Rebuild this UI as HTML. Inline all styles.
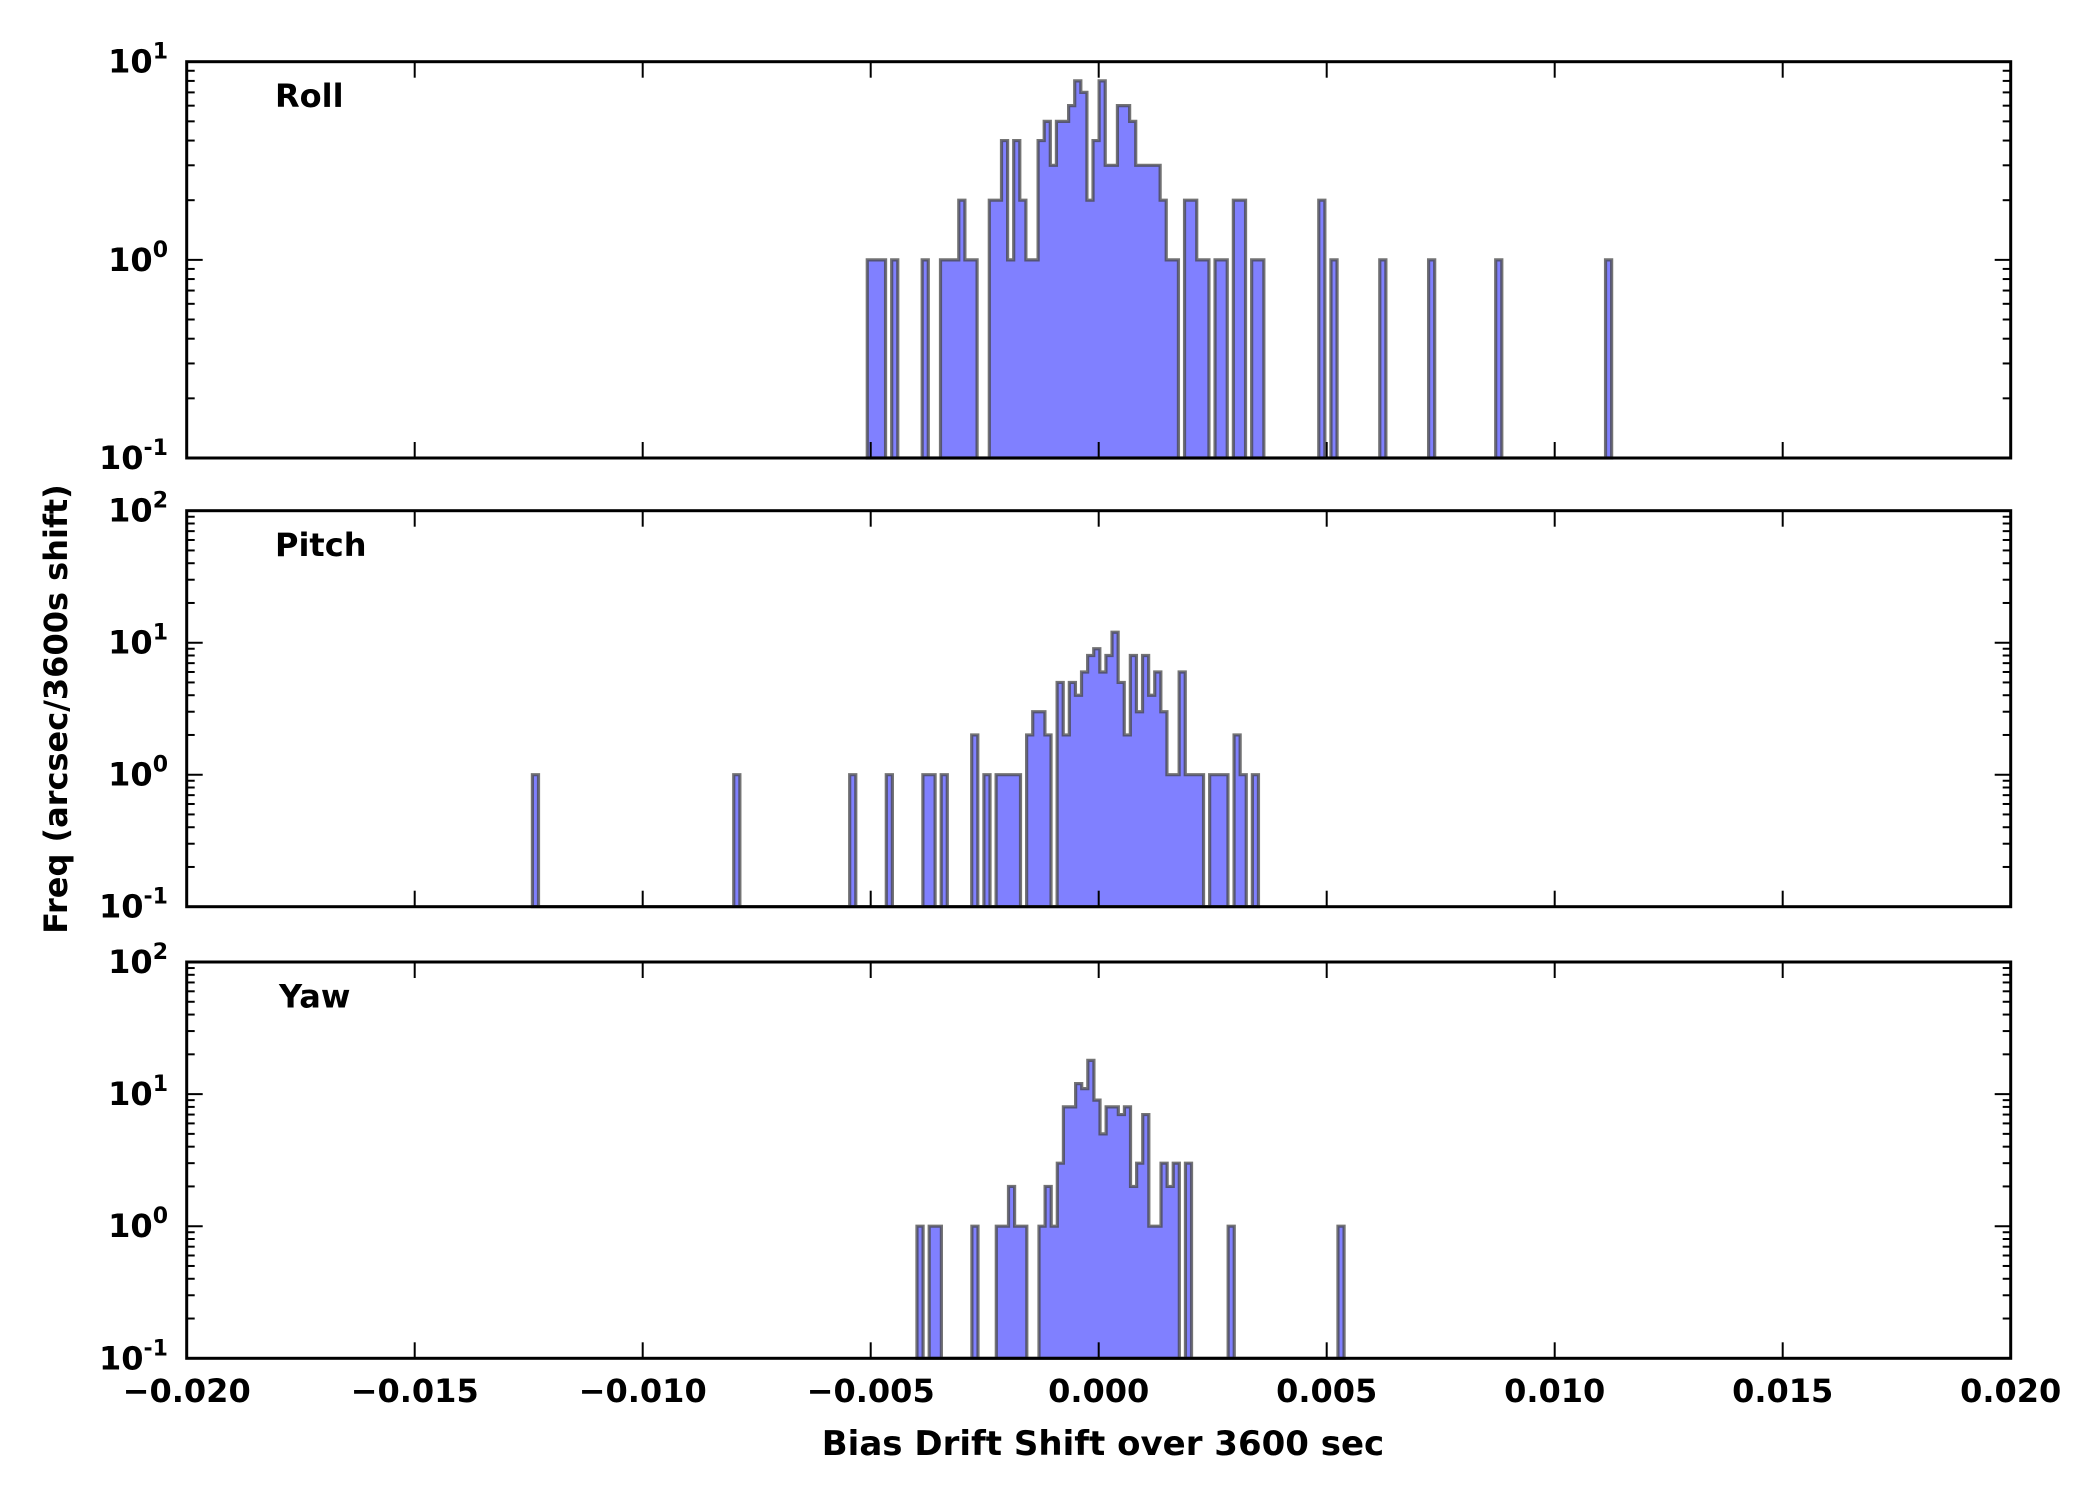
<!DOCTYPE html>
<html><head><meta charset="utf-8"><style>
html,body{margin:0;padding:0;background:#fff;}
svg{display:block;font-family:"DejaVu Sans","Liberation Sans",sans-serif;font-weight:bold;}
</style></head><body>
<svg id="chart" width="2100" height="1500" viewBox="0 0 2100 1500" xmlns="http://www.w3.org/2000/svg">
<rect width="2100" height="1500" fill="#fff"/>
<text x="1103" y="1455" font-size="34" text-anchor="middle">Bias Drift Shift over 3600 sec</text>
<text transform="translate(67,709) rotate(-90)" font-size="32" text-anchor="middle">Freq (arcsec/3600s shift)</text>
</svg>
<script>
const xTicks = [-0.02, -0.015, -0.01, -0.005, 0, 0.005, 0.01, 0.015, 0.02];
const xTickLabels = ["\u22120.020","\u22120.015","\u22120.010","\u22120.005","0.000","0.005","0.010","0.015","0.020"];
const binWidth = 0.0001338;
const rollBinStart = -0.004540;
const rollBins   = [-4,-3,-2,0,5,8,9,10,11,12,13,16,17,18,19,20,21,22,23,24,25,26,27,28,29,30,31,32,33,34,35,36,37,38,39,40,41,42,43,44,45,46,48,49,50,51,53,54,56,57,59,60,70,72,80,88,99,117];
const rollCounts = [1,1,1,1,1,1,1,1,2,1,1,2,2,4,1,4,2,1,1,4,5,3,5,5,6,8,7,2,4,8,3,3,6,6,5,3,3,3,3,2,1,1,2,2,1,1,1,1,2,2,1,1,2,1,1,1,1,1];
const pitchBinStart = -0.005461;
const pitchBins   = [-52,-19,0,6,12,13,15,20,22,24,25,26,27,29,30,31,32,34,35,36,37,38,39,40,41,42,43,44,45,46,47,48,49,50,51,52,53,54,55,56,57,59,60,61,63,64,66];
const pitchCounts = [1,1,1,1,1,1,1,2,1,1,1,1,1,2,3,3,2,5,2,5,4,6,8,9,6,8,12,5,2,8,3,8,4,6,3,1,1,6,1,1,1,1,1,1,2,1,1];
const yawBinStart = -0.003985;
const yawBins   = [0,2,3,9,13,14,15,16,17,20,21,22,23,24,25,26,27,28,29,30,31,32,33,34,35,36,37,38,39,40,41,42,44,51,69];
const yawCounts = [1,1,1,1,1,1,2,1,1,1,2,1,3,8,8,12,11,18,9,5,8,8,7,8,2,3,7,1,1,3,2,3,3,1,1];

const svg = document.getElementById('chart');
const NS = 'http://www.w3.org/2000/svg';
const X0 = 186.7, X1 = 2010.7, XMIN = -0.02, XMAX = 0.02;
function xs(v){ return X0 + (v - XMIN) / (XMAX - XMIN) * (X1 - X0); }
function mk(tag, attrs){ const e = document.createElementNS(NS, tag); for (const k in attrs) e.setAttribute(k, attrs[k]); return e; }

const panels = [
  {name:'roll', label:'Roll', top:61.7, bottom:458, lo:-1, hi:1, start:rollBinStart, bins:rollBins, counts:rollCounts, lx:275},
  {name:'pitch', label:'Pitch', top:510.7, bottom:906.7, lo:-1, hi:2, start:pitchBinStart, bins:pitchBins, counts:pitchCounts, lx:275},
  {name:'yaw', label:'Yaw', top:962, bottom:1358.3, lo:-1, hi:2, start:yawBinStart, bins:yawBins, counts:yawCounts, lx:279}
];

panels.forEach(function(p, pi){
  const g = mk('g', {});
  
  
  svg.appendChild(g);
  function ys(c){ return p.bottom - (Math.log10(c) - p.lo) / (p.hi - p.lo) * (p.bottom - p.top); }
  const cmap = {};
  p.bins.forEach(function(b, i){ cmap[b] = p.counts[i]; });
  const kmin = Math.min.apply(null, p.bins), kmax = Math.max.apply(null, p.bins);
  let d = 'M' + xs(p.start + kmin * binWidth).toFixed(2) + ',' + p.bottom;
  for (let k = kmin; k <= kmax; k++) {
    const c = cmap[k];
    const y = c ? ys(c) : p.bottom;
    d += 'L' + xs(p.start + k * binWidth).toFixed(2) + ',' + y.toFixed(2);
    d += 'L' + xs(p.start + (k + 1) * binWidth).toFixed(2) + ',' + y.toFixed(2);
  }
  d += 'L' + xs(p.start + (kmax + 1) * binWidth).toFixed(2) + ',' + p.bottom + 'Z';
  const hist = mk('path', {d:d, fill:'#8080ff', stroke:'#454545', 'stroke-opacity':'0.75', 'stroke-width':'3.2', 'stroke-linejoin':'miter'});
  
  
  g.appendChild(hist);
  for (let e = p.lo; e <= p.hi; e++) {
    const y = ys(Math.pow(10, e));
    g.appendChild(mk('line', {x1:X0, x2:X0 + 16, y1:y, y2:y, stroke:'#000', 'stroke-width':'2'}));
    g.appendChild(mk('line', {x1:X1, x2:X1 - 16, y1:y, y2:y, stroke:'#000', 'stroke-width':'2'}));
    const t = mk('text', {x:168, y:(y + 11).toFixed(1), 'font-size':'32', 'text-anchor':'end'});
    
    
    t.textContent = '10';
    const s = mk('tspan', {dy:'-14', 'font-size':'22'});
    s.textContent = String(e);
    t.appendChild(s);
    g.appendChild(t);
    if (e < p.hi) {
      for (let m = 2; m <= 9; m++) {
        const ym = ys(m * Math.pow(10, e));
        g.appendChild(mk('line', {x1:X0, x2:X0 + 8, y1:ym, y2:ym, stroke:'#000', 'stroke-width':'2'}));
        g.appendChild(mk('line', {x1:X1, x2:X1 - 8, y1:ym, y2:ym, stroke:'#000', 'stroke-width':'2'}));
      }
    }
  }
  xTicks.forEach(function(v, i){
    const x = xs(v);
    g.appendChild(mk('line', {x1:x, x2:x, y1:p.bottom, y2:p.bottom - 16, stroke:'#000', 'stroke-width':'2'}));
    g.appendChild(mk('line', {x1:x, x2:x, y1:p.top, y2:p.top + 16, stroke:'#000', 'stroke-width':'2'}));
    if (pi === 2) {
      const t = mk('text', {x:x.toFixed(1), y:'1402', 'font-size':'32', 'text-anchor':'middle'});
      
      
      t.textContent = xTickLabels[i];
      svg.appendChild(t);
    }
  });
  const fr = mk('rect', {x:X0, y:p.top, width:X1 - X0, height:p.bottom - p.top, fill:'none', stroke:'#000', 'stroke-width':'3'});
  
  
  g.appendChild(fr);
  const lab = mk('text', {x:p.lx, y:(p.top + 45.3).toFixed(1), 'font-size':'32'});
  
  
  lab.textContent = p.label;
  g.appendChild(lab);
});
</script>
</body></html>
